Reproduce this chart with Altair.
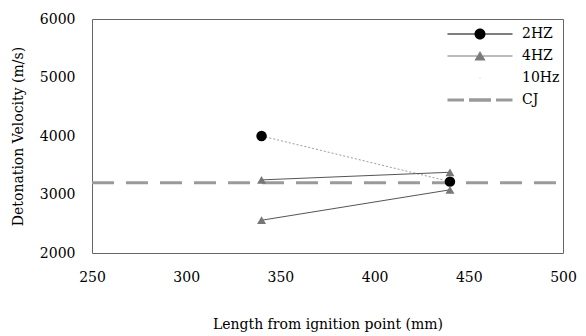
import altair as alt
import pandas as pd

# ---- data ----
x_pos = [340, 440]
v_2hz = [4000, 3220]
v_4hz_a = [3250, 3380]
v_4hz_b = [2560, 3080]
cj_velocity = 3200
x_range = [250, 500]
series_names = ["2HZ", "4HZ", "10Hz", "CJ"]
series_colors = ["#000000", "#7a7a7a", "#e6e6e6", "#9a9a9a"]

df2 = pd.DataFrame({"x": x_pos, "v": v_2hz})
df4 = pd.concat([
    pd.DataFrame({"x": x_pos, "v": v_4hz_a, "run": "a"}),
    pd.DataFrame({"x": x_pos, "v": v_4hz_b, "run": "b"}),
])
dfcj = pd.DataFrame({"x": x_range, "v": [cj_velocity, cj_velocity]})
dflegend = pd.DataFrame({"x": [x_pos[0]] * 4, "v": [v_2hz[0]] * 4, "s": series_names})

FONT = "DejaVu Serif"
xs = alt.Scale(domain=x_range)
ys = alt.Scale(domain=[2000, 6000])

X = alt.X("x:Q", scale=xs, title="Length from ignition point (mm)",
          axis=alt.Axis(values=[250, 300, 350, 400, 450, 500], grid=False, ticks=False,
                        domain=False, labelPadding=17, titlePadding=33, format="d",
                        labelFlush=False))
Y = alt.Y("v:Q", scale=ys, title="Detonation Velocity (m/s)",
          axis=alt.Axis(values=[2000, 3000, 4000, 5000, 6000], grid=False, ticks=False,
                        domain=False, labelPadding=17, titlePadding=14, format="d",
                        labelFlush=False))

cj_line = alt.Chart(dfcj).mark_line(color="#9a9a9a", strokeWidth=3, strokeDash=[22, 12]).encode(x=X, y=Y)

line2 = alt.Chart(df2).mark_line(color="#9c9c9c", strokeWidth=1, strokeDash=[2, 2]).encode(x=X, y=Y)
pts2 = alt.Chart(df2).mark_point(shape="circle", filled=True, color="black", size=110, opacity=1).encode(x=X, y=Y)

line4 = alt.Chart(df4).mark_line(color="#555555", strokeWidth=1).encode(x=X, y=Y, detail="run:N")
pts4 = alt.Chart(df4).mark_point(shape="triangle-up", filled=True, color="#777777", size=80, opacity=1).encode(x=X, y=Y)

paths = [
    "M-6.5,-0.1H6.5V0.1H-6.5Z M1.1,0A1.1,1.1,0,1,1,-1.1,0A1.1,1.1,0,1,1,1.1,0Z",
    "M-6.5,-0.1H6.5V0.1H-6.5Z M0,-1L1.1,0.9H-1.1Z",
    "M-0.15,-0.15H0.15V0.15H-0.15Z",
    "M-6.5,-0.3H-3.2V0.3H-6.5Z M-2.2,-0.35H2.2V0.35H-2.2Z M3.2,-0.3H6.5V0.3H3.2Z",
]

ghost = alt.Chart(dflegend).mark_point(filled=True, opacity=0, size=100).encode(
    x=X, y=Y,
    color=alt.Color("s:N", scale=alt.Scale(domain=series_names, range=series_colors), title=None),
    shape=alt.Shape("s:N", scale=alt.Scale(domain=series_names, range=paths), title=None),
)

chart = alt.layer(cj_line, line2, line4, pts2, pts4, ghost).properties(
    width=471, height=234,
    autosize=alt.AutoSizeParams(type="none"),
    padding={"left": 84, "top": 11, "right": 15, "bottom": 85},
).configure_view(
    stroke="#666666", strokeWidth=1
).configure_axis(
    labelFont=FONT, titleFont=FONT, labelFontSize=14, titleFontSize=14,
    labelColor="black", titleColor="black", titleFontWeight="normal",
).configure_legend(
    orient="none", legendX=381, legendY=8,
    labelFont=FONT, labelFontSize=14, labelColor="black",
    symbolOpacity=1, symbolSize=100, labelOffset=35, rowPadding=8,
    symbolStrokeWidth=0, padding=0,
)

chart.save("out.html", embed_options={"renderer": "svg", "actions": False})
